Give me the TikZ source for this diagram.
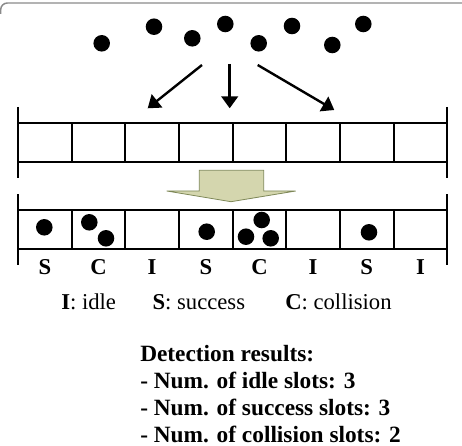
\documentclass[tikz,border=0pt]{standalone}
\usepackage{fontspec}
\setmainfont{Liberation Serif}
\usetikzlibrary{arrows.meta,positioning}
\definecolor{olivefill}{HTML}{D4D6AE}
\definecolor{olivedraw}{HTML}{7D8757}
\definecolor{framegray}{HTML}{8A8A8A}

\begin{document}
\begin{tikzpicture}[
  x=0.75pt,y=-0.75pt,
  slot/.style={draw,line width=1.5pt,minimum width=40.245pt,minimum height=29.4pt,inner sep=0pt,outer sep=0pt},
  dot/.style={circle,fill=black,inner sep=0pt,minimum size=12.4pt},
  tag/.style={font=\fontsize{17}{20}\selectfont\bfseries,inner sep=0pt,anchor=base},
  legend/.style={font=\fontsize{17}{20}\selectfont,inner sep=0pt,anchor=base west},
  arr/.style={-{Triangle[length=9pt,width=12.5pt]},line width=1.8pt},
  edge/.style={line width=1.5pt},
  bigarrow/.style={fill=olivefill,draw=olivedraw,line width=0.6pt}
]
\useasboundingbox (0,0) rectangle (462,446);
\draw[framegray,line width=1.1pt,rounded corners=5pt] (0.7,14) -- (0.7,3) -- (462,3);

% tags waiting to be read
\foreach \p [count=\i] in {(101.7,43.3),(154,26.7),(192.3,38.3),(225.3,24),(258.7,43.3),(292,26),(332.3,45),(363.3,24)}
  \node[dot] (t\i) at \p {};

\coordinate (fromL) at (202,65);   \coordinate (toL) at (147.7,108.3);
\coordinate (fromM) at (229.7,64); \coordinate (toM) at (229.7,108.3);
\coordinate (fromR) at (257.7,65); \coordinate (toR) at (334.3,110);
\draw[arr] (fromL) -- (toL);
\draw[arr] (fromM) -- (toM);
\draw[arr] (fromR) -- (toR);

% empty frame
\node[slot] (u1) at (44.83,142.8) {};
\foreach \i [count=\j from 2] in {1,...,7}
  \node[slot,right=0pt of u\i] (u\j) {};
\draw[edge] (18,107) -- (18,178);
\draw[edge] (447.3,107) -- (447.3,178);

\draw[bigarrow] (199.3,170.3) -- (263.7,170.3) -- (263.7,191) -- (295.7,191)
  -- (231,201.7) -- (166.7,191) -- (199.3,191) -- cycle;

% frame after the replies
\node[slot] (l1) at (44.83,229.8) {};
\foreach \i [count=\j from 2] in {1,...,7}
  \node[slot,right=0pt of l\i] (l\j) {};
\draw[edge] (18,194.3) -- (18,265);
\draw[edge] (447.3,194.3) -- (447.3,265);

\node[dot] (b1) at (44.3,227.3) {};
\node[dot] (b2) at (89.3,222.3) {};
\node[dot] (b3) at (106,238.3) {};
\node[dot] (b4) at (206.7,231.7) {};
\node[dot] (b5) at (261.7,220) {};
\node[dot] (b6) at (246,236.7) {};
\node[dot] (b7) at (270.7,238.3) {};
\node[dot] (b8) at (369,232.3) {};

\foreach \l [count=\i] in {S,C,I,S,C,I,S,I}
  \node[tag,yshift=-19.2pt] (s\i) at (l\i.south) {\l};

\node[legend] (legI) at (61,310) {\textbf{I}: idle};
\node[legend] (legS) at (152.3,310) {\textbf{S}: success};
\node[legend] (legC) at (285,310) {\textbf{C}: collision};

\node[font=\fontsize{17.5}{20.25}\selectfont\bfseries,align=left,inner sep=0pt,anchor=north west] (res) at (140,345.5)
  {Detection results:\\- Num. of idle slots: 3\\- Num. of success slots: 3\\- Num. of collision slots: 2};
\end{tikzpicture}
\end{document}
